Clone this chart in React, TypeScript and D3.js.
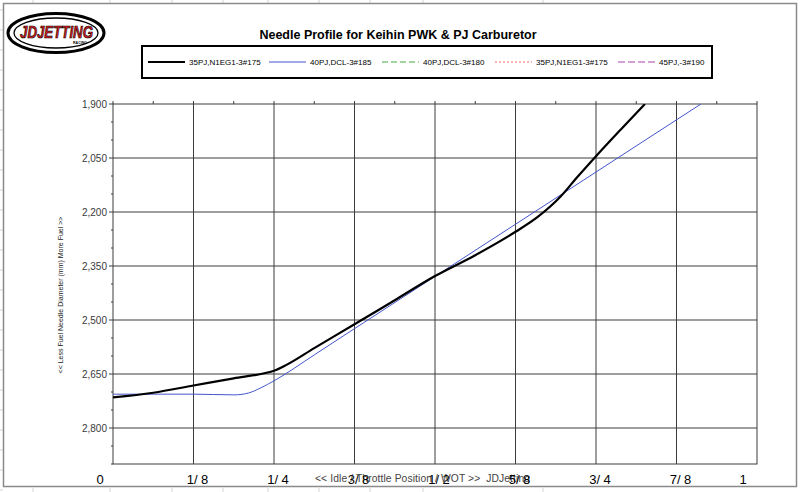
import React from 'react';
import * as d3 from 'd3';

// throttle position (fraction of full) vs needle diameter
const blackX = [0, 0.0625, 0.125, 0.1875, 0.235, 0.25, 0.27, 0.3125, 0.375, 0.4375, 0.5, 0.5625, 0.625, 0.66, 0.695, 0.72, 0.75, 0.79, 0.826];
const blackY = [2715, 2702, 2682, 2662, 2648, 2641, 2624, 2578, 2512, 2445, 2378, 2320, 2255, 2213, 2157, 2105, 2045, 1968, 1900];

const blueX = [0, 0.0625, 0.125, 0.1875, 0.21, 0.23, 0.25, 0.3125, 0.375, 0.5, 0.625, 0.75, 0.875, 0.913];
const blueY = [2706, 2706, 2706, 2708, 2703, 2688, 2669, 2597, 2524, 2379, 2234, 2089, 1944, 1900];

const yTicks = [1900, 2050, 2200, 2350, 2500, 2650, 2800];
const xTicks = [0, 0.125, 0.25, 0.375, 0.5, 0.625, 0.75, 0.875, 1];
const xTickLabels = ['0', '1/ 8', '1/ 4', '3/ 8', '1/ 2', '5/ 8', '3/ 4', '7/ 8', '1'];

const legendNames = ['35PJ,N1EG1-3#175', '40PJ,DCL-3#185', '40PJ,DCL-3#180', '35PJ,N1EG1-3#175', '45PJ,-3#190'];
const legendColors = ['#000000', '#4455cc', '#44aa44', '#ff6666', '#aa44aa'];
const legendDash = ['', '', '6,3', '2,2', '7,3'];
const legendWidth = [2, 1, 1, 1, 1];
const legendStart = [148, 269, 382, 495, 618];

const sheetCols = [33, 110, 172, 223, 268, 319, 370, 423, 543];

const W = 800;
const H = 492;
const font = 'Arial, "Liberation Sans", sans-serif';

export default function App() {
  const x = d3.scaleLinear().domain([0, 1]).range([113, 757]);
  const y = d3.scaleLinear().domain([1900, 2900]).range([104, 464]);

  // Excel-style smoothed line
  const makePath = (xs: number[], ys: number[]) =>
    d3.line<number>()
      .x((d) => x(d))
      .y((_, i) => y(ys[i]))
      .curve(d3.curveMonotoneX)(xs) || '';

  const minorY = d3.range(1900, 2901, 50);
  const minorX = d3.range(0, 1.0001, 1 / 16);

  const labelX = (v: number) => (v === 0 ? x(v) - 13 : v === 1 ? x(v) - 14 : x(v) + 4);

  return (
    <div>
      <style>{`body{margin:0}`}</style>
      <svg width={W} height={H} style={{ display: 'block', fontFamily: font }}>
        <rect x={0} y={0} width={W} height={H} fill="#ffffff" />
        {/* spreadsheet behind */}
        {sheetCols.map((c, i) => (
          <g key={i}>
            <line x1={c} x2={c} y1={0} y2={3} stroke="#d4d4d4" />
            <line x1={c} x2={c} y1={488} y2={H} stroke="#d4d4d4" />
          </g>
        ))}
        {d3.range(10, H, 20).map((r, i) => (
          <line key={i} x1={0} x2={3} y1={r} y2={r} stroke="#d4d4d4" />
        ))}
        <rect x={3.5} y={3.5} width={793} height={483} fill="#ffffff" stroke="#8a8a8a" strokeWidth={1.5} />

        {/* logo */}
        <g>
          <ellipse cx={56} cy={33} rx={48} ry={19.5} fill="#ffffff" stroke="#000" strokeWidth={3} />
          <ellipse cx={56} cy={33} rx={42} ry={15} fill="#ffffff" stroke="#000" strokeWidth={1.3} />
          <text x={20} y={38} fontSize={17} fontWeight="bold" fontStyle="italic" textLength={73}
            lengthAdjust="spacingAndGlyphs" fill="#d81e1e" stroke="#000" strokeWidth={0.7}>JDJETTING</text>
          <text x={80} y={44} textAnchor="middle" fontSize={3.5} fontWeight="bold" fill="#000">RACING</text>
        </g>

        {/* title */}
        <text x={398} y={39} textAnchor="middle" fontSize={12.5} fontWeight="bold" fill="#000">
          Needle Profile for Keihin PWK &amp; PJ Carburetor
        </text>

        {/* legend */}
        <rect x={142} y={46} width={570} height={32} fill="#fff" stroke="#000" strokeWidth={2} />
        {legendNames.map((n, i) => (
          <g key={i}>
            <line x1={legendStart[i]} x2={legendStart[i] + 37} y1={62} y2={62}
              stroke={legendColors[i]} strokeWidth={legendWidth[i]} strokeDasharray={legendDash[i]} />
            <text x={legendStart[i] + 41} y={64.8} fontSize={8} fill="#000">{n}</text>
          </g>
        ))}

        {/* grid */}
        {yTicks.slice(1).map((t) => (
          <line key={t} x1={x(0)} x2={x(1)} y1={y(t)} y2={y(t)} stroke="#3c3c3c" strokeWidth={1} />
        ))}
        {xTicks.slice(1, -1).map((t) => (
          <line key={t} x1={x(t)} x2={x(t)} y1={y(1900)} y2={y(2900)} stroke="#3c3c3c" strokeWidth={1} />
        ))}
        <rect x={x(0)} y={y(1900)} width={x(1) - x(0)} height={y(2900) - y(1900)} fill="none" stroke="#3c3c3c" strokeWidth={1} />

        {/* axis ticks */}
        {minorY.map((t) => (
          <line key={t} x1={yTicks.includes(t) ? x(0) - 4 : x(0) - 2} x2={x(0)} y1={y(t)} y2={y(t)} stroke="#3c3c3c" />
        ))}
        {minorX.map((t, i) => (
          <line key={i} x1={x(t)} x2={x(t)} y1={y(1900) - 3} y2={y(1900)} stroke="#3c3c3c" />
        ))}
        {yTicks.map((t) => (
          <text key={t} x={x(0) - 6} y={y(t) + 3.5} textAnchor="end" fontSize={10} fill="#3a3a3a">
            {d3.format(',')(t)}
          </text>
        ))}

        {/* y title */}
        <text transform={`translate(63,${295}) rotate(-90)`} textAnchor="middle" fontSize={7} fill="#222">
          {'<< Less Fuel  Needle Diameter (mm) More Fuel >>'}
        </text>

        {/* series */}
        <defs>
          <clipPath id="plotClip">
            <rect x={x(0)} y={y(1900)} width={x(1) - x(0)} height={y(2900) - y(1900)} />
          </clipPath>
        </defs>
        <g clipPath="url(#plotClip)">
          <path d={makePath(blueX, blueY)} fill="none" stroke="#4455cc" strokeWidth={1} />
          <path d={makePath(blackX, blackY)} fill="none" stroke="#000" strokeWidth={2.2} />
        </g>

        {/* x labels */}
        <text x={315} y={482} fontSize={10.3} fill="#444" textLength={215} lengthAdjust="spacing"
          style={{ whiteSpace: 'pre' }}>
          {'<< Idle / Throttle Position / WOT >>  JDJetting'}
        </text>
        {xTicks.map((t, i) => (
          <text key={i} x={labelX(t)} y={484} textAnchor="middle" fontSize={13} fill="#000">
            {xTickLabels[i]}
          </text>
        ))}
      </svg>
    </div>
  );
}
